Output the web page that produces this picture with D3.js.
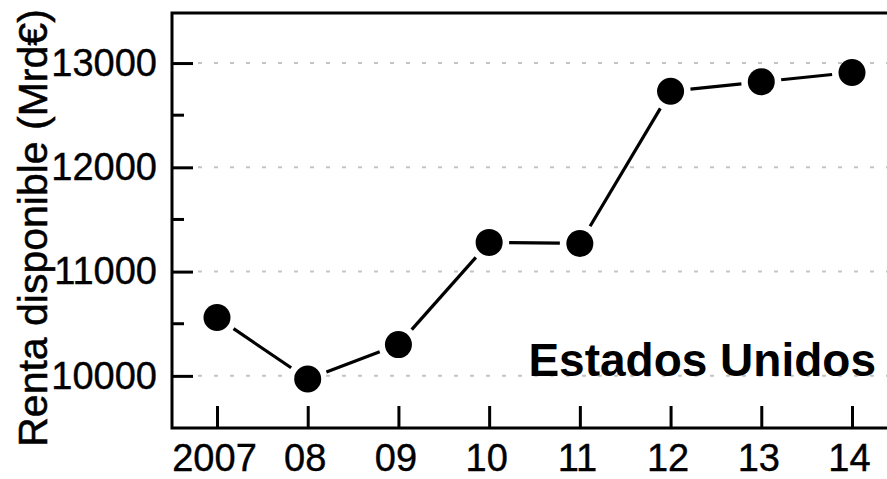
<!DOCTYPE html>
<html><head><meta charset="utf-8">
<script src="https://cdn.jsdelivr.net/npm/d3@7"></script>
<style>html,body{margin:0;padding:0;background:#fff;}svg{display:block;}</style>
</head><body>
<script>
const years = [2007, 2008, 2009, 2010, 2011, 2012, 2013, 2014];
const xTickLabels = ["2007", "08", "09", "10", "11", "12", "13", "14"];
const values = [10560, 9970, 10300, 11280, 11270, 12730, 12820, 12910];
const yMajorTicks = [10000, 11000, 12000, 13000];
const yMinorTicks = [10500, 11500, 12500];
const yTitle = "Renta disponible (Mrd€)";
const seriesName = "Estados Unidos";

(function () {
const W = 887, H = 479;
const mLeft = 172, mTop = 13, mBottom = 428;
const font = "'Liberation Sans', Arial, sans-serif";

const svg = d3.select("body").append("svg").attr("width", W).attr("height", H);
const x = d3.scaleLinear().domain([2007, 2014]).range([217, 852]);
const y = d3.scaleLinear().domain([9500, 13480]).range([mBottom, mTop]);

// gridlines
svg.append("g").selectAll("line").data(yMajorTicks).join("line")
  .attr("x1", mLeft + 26).attr("x2", W)
  .attr("y1", d => y(d)).attr("y2", d => y(d))
  .attr("stroke", "#c4c4c4").attr("stroke-width", 2).attr("stroke-dasharray", "4,12");

// left axis with inward ticks
const yAxis = d3.axisLeft(y).tickValues(yMajorTicks).tickSize(-21).tickPadding(36).tickFormat(d3.format("d"));
const gy = svg.append("g").attr("transform", `translate(${mLeft},0)`).call(yAxis);
gy.select(".domain").remove();
gy.selectAll(".tick line").attr("stroke", "#000").attr("stroke-width", 3);
gy.selectAll(".tick text").attr("font-family", font).attr("font-size", 38).attr("fill", "#000")
  .attr("stroke", "#000").attr("stroke-width", 0.4).attr("x", -15);
svg.append("g").selectAll("line").data(yMinorTicks).join("line")
  .attr("x1", mLeft).attr("x2", mLeft + 12)
  .attr("y1", d => y(d)).attr("y2", d => y(d))
  .attr("stroke", "#000").attr("stroke-width", 3);

// bottom axis with inward ticks
const xAxis = d3.axisBottom(x).tickValues(years).tickSize(-22).tickPadding(14)
  .tickFormat((d, i) => xTickLabels[i]);
const gx = svg.append("g").attr("transform", `translate(0,${mBottom})`).call(xAxis);
gx.select(".domain").remove();
gx.selectAll(".tick line").attr("stroke", "#000").attr("stroke-width", 3);
gx.selectAll(".tick text").attr("font-family", font).attr("font-size", 38).attr("fill", "#000")
  .attr("stroke", "#000").attr("stroke-width", 0.4)
  .attr("x", -3).attr("y", 43).attr("dy", 0);

// frame: left, bottom, top
svg.append("path")
  .attr("d", `M${W},${mTop}H${mLeft}V${mBottom}H${W}`)
  .attr("fill", "none").attr("stroke", "#000").attr("stroke-width", 3);

// line segments with gaps around markers
const pts = years.map((yr, i) => [x(yr), y(values[i])]);
const gap = 20;
const segs = d3.pairs(pts).map(([a, b]) => {
  const dx = b[0] - a[0], dy = b[1] - a[1], L = Math.hypot(dx, dy);
  const ux = dx / L, uy = dy / L;
  return [a[0] + ux * gap, a[1] + uy * gap, b[0] - ux * gap, b[1] - uy * gap];
});
svg.append("g").selectAll("line").data(segs).join("line")
  .attr("x1", d => d[0]).attr("y1", d => d[1]).attr("x2", d => d[2]).attr("y2", d => d[3])
  .attr("stroke", "#000").attr("stroke-width", 3.2);

svg.append("g").selectAll("circle").data(pts).join("circle")
  .attr("cx", d => d[0]).attr("cy", d => d[1]).attr("r", 13.5).attr("fill", "#000");

// y title
svg.append("text")
  .attr("transform", `translate(47,228) rotate(-90)`)
  .attr("text-anchor", "middle")
  .attr("font-family", font).attr("font-size", 41).attr("fill", "#000")
  .attr("stroke", "#000").attr("stroke-width", 0.5)
  .text(yTitle);

// series label
svg.append("text")
  .attr("x", 876).attr("y", 376).attr("text-anchor", "end")
  .attr("font-family", font).attr("font-size", 46).attr("font-weight", "bold").attr("fill", "#000")
  .text(seriesName);
})();
</script>
</body></html>
